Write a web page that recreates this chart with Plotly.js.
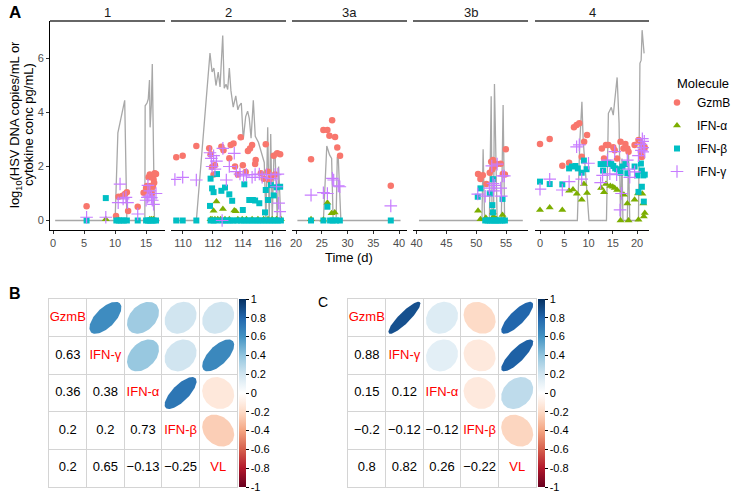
<!DOCTYPE html>
<html><head><meta charset="utf-8">
<script src="https://cdn.plot.ly/plotly-3.0.1.min.js"></script>
<style>html,body{margin:0;padding:0;background:#fff}</style>
</head><body><div id="chart" style="width:736px;height:495px"></div>
<script>
// ---------- Panel A data: [time (d), log10 value] ----------
const facetNames = ["1", "2", "3a", "3b", "4"];
const molecules = ["GzmB", "IFN-α", "IFN-β", "IFN-γ"];

// Patient 1
const p1_VL = [[0.33,0],[5.4,0],[8.5,0],[10.0,0],[10.45,3.25],[11.55,4.45],[11.9,0],[13.65,0],[14.8,0],[14.85,4.25],[15.15,4.35],[15.35,4.5],[15.55,5.2],[15.65,3.45],[15.85,4.3],[16.0,5.8],[16.1,3.5],[16.35,0],[17.2,0]];
const p1_GzmB = [[5.4,0.53],[10.15,0.17],[10.55,0.88],[11.2,0.92],[11.6,0.98],[11.9,1.05],[12.1,0.35],[13.65,0.51],[14.6,1.03],[15.15,1.28],[15.4,1.6],[15.6,1.7],[15.85,1.65],[16.2,1.53],[16.6,1.72],[16.3,1.4],[15.7,1.28],[15.4,1.1],[15.0,1.2],[15.9,1.0],[16.1,1.25],[16.4,1.75]];
const p1_IFNa = [[8.5,0.05],[10.6,0.02],[15.6,0.05],[15.9,0.05],[16.2,0.05]];
const p1_IFNb = [[5.4,0],[8.5,0.83],[10.2,0],[10.6,0],[11.0,0],[11.4,0],[11.9,0],[13.65,0],[15.0,0],[15.3,0],[15.6,0],[15.9,0],[16.2,0],[16.6,0]];
const p1_IFNg = [[5.4,0.12],[8.5,0.12],[10.8,1.35],[10.5,0.66],[11.75,0.86],[12.0,0.66],[11.3,0.8],[13.65,0.24],[15.3,1.3],[15.45,0.9],[15.85,0.85],[16.2,0.6],[16.6,1.0],[15.2,0.86],[15.6,1.1],[16.0,0.75],[15.0,0.75]];

// Patient 2
const p2_VL = [[109.36,0],[109.55,0],[109.98,0],[110.89,0],[111.8,6.2],[111.94,5.5],[112.06,5.65],[112.2,5.0],[112.35,5.5],[112.47,4.95],[112.65,6.85],[112.75,4.9],[112.87,5.05],[112.98,4.85],[113.09,5.65],[113.2,4.8],[113.35,4.2],[113.52,4.62],[113.66,4.1],[113.75,4.25],[113.89,4.35],[114.02,3.0],[114.18,3.85],[114.31,4.05],[114.42,3.78],[114.54,3.05],[114.69,4.45],[114.82,3.12],[115.03,2.9],[115.24,2.45],[115.42,2.15],[115.53,0],[115.65,3.45],[115.75,0],[115.85,3.2],[115.95,0],[116.07,2.5],[116.14,2.55],[116.29,0],[116.38,2.0],[116.53,0]];
const p2_GzmB = [[109.55,2.34],[109.98,2.4],[110.89,2.76],[111.75,2.68],[111.84,2.45],[111.94,1.98],[112.13,2.05],[112.04,1.7],[112.56,2.73],[112.7,2.6],[113.09,2.31],[113.18,2.8],[113.37,2.85],[113.47,2.0],[113.66,1.7],[113.85,3.08],[113.99,2.05],[114.18,1.8],[114.33,2.57],[114.47,2.67],[114.61,2.8],[114.85,2.24],[114.81,2.09],[115.19,1.75],[115.52,2.82],[115.67,1.81],[115.86,1.6],[116.05,2.4],[116.29,2.49],[116.48,2.45],[115.76,1.5],[116.14,1.7],[115.38,1.55]];
const p2_IFNa = [[112.23,0.7],[112.04,0.36],[112.66,0.43],[113.42,0.37],[113.52,0.34],[111.84,0.05],[111.94,0.05],[112.13,0.05],[112.32,0.05],[112.51,0.05],[112.8,0.05],[113.09,0.05],[113.66,0.05],[113.95,0.05],[114.23,0.05],[114.61,0.05],[115.0,0.05],[115.38,0.05],[115.67,0.05],[115.95,0.05],[116.24,0.05],[116.53,0.05]];
const p2_IFNb = [[109.55,0],[109.98,0],[110.89,0],[111.84,1.55],[112.27,1.72],[111.94,1.19],[112.04,1.05],[112.56,1.1],[112.8,1.22],[113.09,0.97],[113.28,0.73],[111.8,0.54],[113.99,0.39],[114.09,1.34],[114.42,0.76],[114.66,0.76],[114.81,0.74],[115.09,0.64],[115.52,1.13],[115.86,1.31],[116.05,0.93],[116.24,1.23],[116.48,1.25],[115.47,0.3],[115.67,0.76],[111.84,0],[112.04,0],[112.23,0],[112.61,0],[112.8,0],[112.99,0],[113.18,0],[113.37,0],[113.61,0],[113.85,0],[114.04,0],[114.23,0],[114.42,0],[114.61,0],[114.81,0],[115.0,0],[115.19,0],[115.38,0],[115.57,0],[115.76,0],[115.95,0],[116.14,0],[116.33,0],[116.53,0]];
const p2_IFNg = [[109.46,1.52],[109.98,1.6],[110.89,1.5],[111.8,2.51],[111.89,2.3],[112.04,2.4],[112.66,2.67],[111.94,2.0],[112.13,1.9],[112.89,1.5],[113.09,2.0],[113.42,2.49],[113.56,1.81],[113.8,1.72],[114.04,1.65],[114.23,1.7],[114.61,1.6],[114.81,1.7],[115.09,1.72],[115.28,1.6],[115.57,1.7],[115.86,1.55],[116.14,1.7],[116.33,1.72],[116.24,1.25],[116.38,0.64],[116.48,0.33],[112.61,0.0],[112.23,2.2]];

// Patient 3a
const p3a_VL = [[20.25,0],[22.9,0],[25.3,0],[25.96,2.76],[26.5,2.43],[26.9,2.3],[27.2,0],[27.77,0],[28.0,2.36],[28.2,2.3],[28.7,0],[38.4,0],[40.3,0]];
const p3a_GzmB = [[22.9,2.27],[25.3,3.35],[26.08,3.35],[27.0,3.71],[26.47,3.14],[27.57,3.09],[28.0,2.7],[28.54,2.4],[38.4,1.29]];
const p3a_IFNa = [[22.9,0.05],[25.3,0.03],[26.08,0.66],[26.9,0.27],[27.5,0.3]];
const p3a_IFNb = [[22.9,0],[25.3,0],[26.08,0.51],[26.6,0],[27.1,0],[27.77,0],[28.5,0],[38.4,0]];
const p3a_IFNg = [[22.9,0.94],[25.3,1.03],[26.08,1.0],[27.05,1.56],[27.3,1.5],[28.2,1.28],[28.5,1.25],[38.4,0.54]];

// Patient 3b
const p3b_VL = [[40.4,0],[50.3,0],[50.95,0],[51.15,2.64],[51.4,0],[52.2,0],[52.5,4.6],[52.65,0],[52.9,0],[53.05,5.06],[53.2,2.98],[53.5,0],[54.2,0],[54.5,4.28],[54.75,0],[57.8,0]];
const p3b_GzmB = [[50.3,1.72],[50.7,1.54],[51.1,1.68],[51.7,1.35],[52.26,1.77],[52.5,2.18],[52.8,2.24],[53.0,2.0],[53.5,2.09],[54.1,2.1],[54.45,1.72],[54.8,1.7],[54.95,2.64],[52.7,1.9]];
const p3b_IFNa = [[50.3,0.36],[50.7,0.05],[51.6,0.1],[52.8,0.3],[52.9,0.15],[53.4,0.05],[54.4,0.2],[54.7,0.05]];
const p3b_IFNb = [[50.25,0.88],[50.7,1.19],[52.26,1.0],[52.8,1.53],[52.7,0.57],[54.4,0.8],[52.8,0.3],[51.5,0],[51.9,0],[52.3,0],[52.6,0],[53.0,0],[53.3,0],[53.6,0],[54.0,0],[54.4,0],[54.8,0]];
const p3b_IFNg = [[50.25,0.98],[51.5,0.9],[52.2,1.2],[52.6,2.02],[52.8,1.37],[53.1,1.3],[53.5,2.09],[54.1,1.2],[54.4,1.65],[54.7,1.65],[54.2,0.9],[52.9,1.1]];

// Patient 4
const p4_VL = [[0,0],[2.0,0],[4.6,0],[6.0,0],[7.7,0],[8.23,2.98],[8.64,4.4],[8.9,2.98],[10.1,0],[12.5,0],[13.7,0],[14.1,3.97],[14.7,4.19],[15.1,3.9],[15.9,5.3],[16.3,3.6],[16.6,0],[16.9,2.3],[17.1,0],[18.0,0],[18.25,2.55],[18.5,0],[20.3,0],[20.6,5.82],[20.85,5.94],[21.05,7.05],[21.3,6.5],[21.46,6.19]];
const p4_GzmB = [[0,2.83],[2.0,3.02],[4.6,2.03],[6.0,2.14],[7.0,3.45],[7.55,3.54],[8.1,3.6],[8.6,2.36],[9.1,2.92],[9.7,3.17],[12.76,2.67],[13.2,2.3],[13.6,2.8],[14.1,2.8],[15.1,2.71],[15.4,2.6],[15.9,2.3],[16.6,2.92],[17.2,2.67],[17.6,2.83],[18.0,2.67],[18.25,2.55],[19.5,2.8],[20.3,2.98],[20.8,2.55],[21.2,2.8],[21.6,2.7],[21.0,2.35],[20.6,2.95]];
const p4_IFNa = [[0,0.39],[2.0,0.48],[4.6,0.39],[6.0,1.1],[6.8,1.15],[7.6,0.99],[8.6,0.77],[9.05,1.35],[9.7,1.02],[12.6,1.2],[13.2,1.05],[13.6,1.35],[14.5,1.28],[15.0,1.25],[15.4,1.2],[15.9,1.13],[16.6,0],[17.3,0.95],[18.0,0.63],[18.25,0],[19.5,0.77],[20.2,1.0],[21.1,0.99],[21.3,0.63],[21.4,0.15],[21.6,0.28],[20.3,0.03]];
const p4_IFNb = [[0,1.44],[2.0,1.35],[4.6,1.34],[6.0,1.93],[6.6,2.0],[7.3,2.02],[7.8,1.93],[8.6,1.77],[9.05,2.22],[9.6,1.9],[12.5,2.09],[13.0,1.85],[13.5,2.09],[14.1,2.14],[14.7,2.09],[15.1,2.02],[15.5,1.93],[15.9,1.9],[16.6,1.77],[17.0,2.0],[17.6,2.09],[18.0,1.75],[19.5,2.0],[20.0,1.67],[20.8,2.11],[21.0,1.85],[21.3,1.67],[21.0,1.25],[21.4,0.7],[20.3,1.06],[21.6,1.7]];
const p4_IFNg = [[0,1.16],[2.0,1.53],[4.6,1.13],[6.0,1.44],[7.55,2.73],[8.1,2.8],[8.6,1.53],[10.0,2.12],[12.5,1.4],[12.9,1.67],[13.9,2.24],[14.4,1.73],[15.4,2.55],[15.8,1.7],[16.5,0.39],[16.8,1.0],[18.0,2.24],[18.3,1.9],[18.5,1.6],[19.5,1.8],[20.3,2.4],[20.8,2.82],[21.1,3.03],[21.5,2.93],[21.6,2.54],[20.9,2.6],[21.3,2.7]];

// Axis tick values per facet
const facetTicks = [[0,5,10,15],[110,112,114,116],[20,25,30,35,40],[40,45,50,55],[0,5,10,15,20]];
const yTicks = [0,2,4,6];

// ---------- Panels B and C: correlation matrices ----------
const corrLabels = ["GzmB", "IFN-γ", "IFN-α", "IFN-β", "VL"];
const corrB = [
  [1, 0.63, 0.36, 0.2, 0.2],
  [0.63, 1, 0.38, 0.2, 0.65],
  [0.36, 0.38, 1, 0.73, -0.13],
  [0.2, 0.2, 0.73, 1, -0.25],
  [0.2, 0.65, -0.13, -0.25, 1]
];
const corrC = [
  [1, 0.88, 0.15, -0.2, 0.8],
  [0.88, 1, 0.12, -0.12, 0.82],
  [0.15, 0.12, 1, -0.12, 0.26],
  [-0.2, -0.12, -0.12, 1, -0.22],
  [0.8, 0.82, 0.26, -0.22, 1]
];
const colorbarTicks = [-1,-0.8,-0.6,-0.4,-0.2,0,0.2,0.4,0.6,0.8,1];

// ---------- styling ----------
const FONT = "Liberation Sans, Arial, Helvetica, sans-serif";
const W = 736, H = 495;
const molColors = ["#F8766D", "#7CAE00", "#00BFC4", "#C77CFF"];
const molSymbols = ["circle", "triangle-up", "square", "cross-thin-open"];
const molSizes = [6.5, 7, 6, 9];
const rdbu = ["#67001F","#B2182B","#D6604D","#F4A582","#FDDBC7","#FFFFFF","#D1E5F0","#92C5DE","#4393C3","#2166AC","#053061"];
const rdbuScale = rdbu.map((c, i) => [i / (rdbu.length - 1), c]);

function hexToRgb(h){ return [parseInt(h.substr(1,2),16), parseInt(h.substr(3,2),16), parseInt(h.substr(5,2),16)]; }
function corrColor(r){
  const t = (r + 1) / 2 * (rdbu.length - 1);
  const i = Math.min(Math.floor(t), rdbu.length - 2);
  const f = t - i;
  const a = hexToRgb(rdbu[i]), b = hexToRgb(rdbu[i+1]);
  const c = a.map((v, k) => Math.round(v + (b[k] - v) * f));
  return "rgb(" + c.join(",") + ")";
}
function fmt(v){ return (v < 0 ? "\u2212" : "") + String(Math.abs(v)); }

const facetData = [
  {vl: p1_VL, m: [p1_GzmB, p1_IFNa, p1_IFNb, p1_IFNg]},
  {vl: p2_VL, m: [p2_GzmB, p2_IFNa, p2_IFNb, p2_IFNg]},
  {vl: p3a_VL, m: [p3a_GzmB, p3a_IFNa, p3a_IFNb, p3a_IFNg]},
  {vl: p3b_VL, m: [p3b_GzmB, p3b_IFNa, p3b_IFNb, p3b_IFNg]},
  {vl: p4_VL, m: [p4_GzmB, p4_IFNa, p4_IFNb, p4_IFNg]}
];
// pixel geometry of facets [left, right]
const facetPx = [[50,165],[171,286],[292,407],[413,528],[535,649]];
const facetRanges = [[-0.5,18.05],[109.2,116.87],[19.2,41.55],[39.4,58.67],[-1.03,22.47]];

const traces = [];
const layout = {
  width: W, height: H,
  margin: {l:0, r:0, t:0, b:0, pad:0},
  paper_bgcolor: "#fff", plot_bgcolor: "rgba(0,0,0,0)",
  font: {family: FONT, size: 11, color: "#000"},
  showlegend: true,
  hovermode: false,
  legend: {x: 657/W, xanchor: "left", y: 1 - 88/H, yanchor: "top", bgcolor: "rgba(0,0,0,0)",
           font: {family: FONT, size: 12, color: "#000"}, tracegroupgap: 4, traceorder: "grouped"},
  annotations: [], shapes: []
};

const yTop = 21, yBot = 230;
layout.yaxis = {
  domain: [1 - yBot/H, 1 - yTop/H], range: [-0.352, 7.39], anchor: "x",
  tickvals: yTicks, ticks: "outside", ticklen: 3, tickwidth: 1, tickcolor: "#333",
  tickfont: {size: 11, color: "#4d4d4d"}, showline: true, linecolor: "#000", linewidth: 1,
  showgrid: false, zeroline: false
};

facetData.forEach((fd, k) => {
  const xa = k === 0 ? "x" : "x" + (k + 1);
  const axName = k === 0 ? "xaxis" : "xaxis" + (k + 1);
  layout[axName] = {
    domain: [facetPx[k][0]/W, facetPx[k][1]/W], range: facetRanges[k], anchor: "y",
    tickvals: facetTicks[k], ticks: "outside", ticklen: 3, tickwidth: 1, tickcolor: "#333",
    tickfont: {size: 11, color: "#4d4d4d"}, showline: true, linecolor: "#000", linewidth: 1,
    showgrid: false, zeroline: false
  };
  // viral load line
  traces.push({type: "scatter", mode: "lines", xaxis: xa, yaxis: "y",
    x: fd.vl.map(p => p[0]), y: fd.vl.map(p => p[1]),
    line: {color: "#A8A8A8", width: 1.3}, showlegend: false, hoverinfo: "skip"});
  fd.m.forEach((arr, mi) => {
    traces.push({type: "scatter", mode: "markers", xaxis: xa, yaxis: "y",
      x: arr.map(p => p[0]), y: arr.map(p => p[1]),
      name: molecules[mi], legendgroup: molecules[mi], showlegend: k === 0,
      marker: {symbol: molSymbols[mi], size: molSizes[mi], color: molColors[mi],
               line: {color: molColors[mi], width: mi === 3 ? 1.2 : 0}},
      hoverinfo: "skip"});
  });
  // strip: top line + label
  layout.shapes.push({type: "line", xref: xa + " domain", yref: "paper", x0: 0, x1: 1,
    y0: 1 - 21/H, y1: 1 - 21/H, line: {color: "#333", width: 1.6}});
  layout.annotations.push({xref: xa + " domain", yref: "paper", x: 0.5, y: 1 - 12/H,
    text: facetNames[k], showarrow: false, font: {size: 13, color: "#1a1a1a"},
    xanchor: "center", yanchor: "middle"});
});

// axis titles etc.
layout.annotations.push(
  {xref: "paper", yref: "paper", x: 15/W, y: 1 - 125/H, textangle: -90, showarrow: false,
   text: "log<sub>10</sub>(HSV DNA copies/mL or", font: {size: 13}, xanchor: "center", yanchor: "middle"},
  {xref: "paper", yref: "paper", x: 28/W, y: 1 - 125/H, textangle: -90, showarrow: false,
   text: "cytokine conc pg/mL)", font: {size: 13}, xanchor: "center", yanchor: "middle"},
  {xref: "paper", yref: "paper", x: 349/W, y: 1 - 257/H, showarrow: false,
   text: "Time (d)", font: {size: 13}, xanchor: "center", yanchor: "middle"},
  {xref: "paper", yref: "paper", x: 675/W, y: 1 - 84/H, showarrow: false,
   text: "Molecule", font: {size: 13}, xanchor: "left", yanchor: "middle"},
  {xref: "paper", yref: "paper", x: 7/W, y: 1 - 12/H, showarrow: false,
   text: "<b>A</b>", font: {size: 17}, xanchor: "left", yanchor: "middle"},
  {xref: "paper", yref: "paper", x: 7/W, y: 1 - 293/H, showarrow: false,
   text: "<b>B</b>", font: {size: 16}, xanchor: "left", yanchor: "middle"},
  {xref: "paper", yref: "paper", x: 316/W, y: 1 - 302/H, showarrow: false,
   text: "C", font: {size: 14}, xanchor: "left", yanchor: "middle"}
);

// ---------- correlation panels ----------
function corrPanel(M, idx, leftPx, cbLeftPx){
  const xa = "x" + idx, ya = "y" + idx;
  const top = 299, bot = 487;
  const axCommon = {range: [0.5, 5.5], tickvals: [1.5, 2.5, 3.5, 4.5], showticklabels: false,
    ticks: "", showgrid: true, gridcolor: "#d4d4d4", gridwidth: 1, zeroline: false,
    showline: true, mirror: true, linecolor: "#d4d4d4", linewidth: 1, fixedrange: true};
  layout["xaxis" + idx] = Object.assign({}, axCommon, {domain: [leftPx/W, (leftPx+188)/W], anchor: ya});
  layout["yaxis" + idx] = Object.assign({}, axCommon, {domain: [1 - bot/H, 1 - top/H], anchor: xa});
  const n = M.length;
  const numX = [], numY = [], numT = [];
  const diagX = [], diagY = [], diagT = [];
  const cbX = [], cbY = [], cbV = [];
  for (let i = 0; i < n; i++){
    for (let j = 0; j < n; j++){
      const cx = j + 1, cy = n - i, r = M[i][j];
      if (i === j){ diagX.push(cx); diagY.push(cy); diagT.push(corrLabels[i]); }
      else if (i > j){ numX.push(cx); numY.push(cy); numT.push(fmt(r)); }
      else {
        const th = Math.acos(r) / 2, ex = [], ey = [];
        for (let s = 0; s <= 98; s++){
          const k = 2 * Math.PI * s / 98;
          ex.push(cx + 0.85 * Math.cos(k + th) / 2);
          ey.push(cy + 0.85 * Math.cos(k - th) / 2);
        }
        traces.push({type: "scatter", mode: "lines", xaxis: xa, yaxis: ya, x: ex, y: ey,
          fill: "toself", fillcolor: corrColor(r), line: {width: 0, color: corrColor(r)},
          showlegend: false, hoverinfo: "skip"});
        cbX.push(cx); cbY.push(cy); cbV.push(r);
      }
    }
  }
  traces.push({type: "scatter", mode: "text", xaxis: xa, yaxis: ya, x: numX, y: numY, text: numT,
    textfont: {family: FONT, size: 13, color: "#000"}, showlegend: false, hoverinfo: "skip"});
  traces.push({type: "scatter", mode: "text", xaxis: xa, yaxis: ya, x: diagX, y: diagY, text: diagT,
    textfont: {family: FONT, size: 13, color: "#FF0000"}, showlegend: false, hoverinfo: "skip"});
  // invisible markers carrying the colour bar
  traces.push({type: "scatter", mode: "markers", xaxis: xa, yaxis: ya, x: cbX, y: cbY,
    marker: {size: 0, opacity: 0, color: cbV, colorscale: rdbuScale, cmin: -1, cmax: 1, showscale: true,
      colorbar: {x: cbLeftPx/W, xanchor: "left", xref: "paper", y: 1 - ((top+bot)/2)/H, yanchor: "middle", yref: "paper",
        len: bot - top, lenmode: "pixels", thickness: 7, thicknessmode: "pixels", xpad: 0, ypad: 0,
        outlinewidth: 0, tickvals: colorbarTicks, ticktext: colorbarTicks.map(v => String(v)),
        ticks: "outside", ticklen: 3, tickwidth: 1, tickcolor: "#000",
        tickfont: {family: FONT, size: 11, color: "#000"}}},
    showlegend: false, hoverinfo: "skip"});
}
corrPanel(corrB, 6, 49, 239);
corrPanel(corrC, 7, 348, 538);

Plotly.newPlot("chart", traces, layout, {staticPlot: true, displayModeBar: false});
</script></body></html>
